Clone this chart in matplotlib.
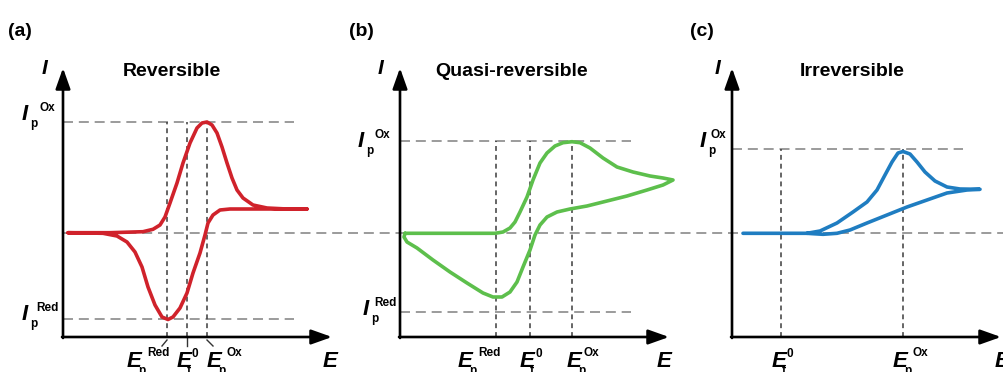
import numpy as np
import matplotlib.pyplot as plt

plt.rcParams['font.family'] = ['Liberation Sans', 'DejaVu Sans']

# curves (E, I in arbitrary units, origin at axis corner)
# (a) reversible
rev_fwd_E = [0.5, 4.7, 8.0, 9.0, 9.7, 10.2, 10.7, 11.4, 12.0, 12.7, 13.4, 13.9, 14.4,
             14.9, 15.4, 15.9, 16.4, 16.9, 17.4, 18.0, 19.0, 20.4, 22.4, 24.4]
rev_fwd_I = [10.43, 10.43, 10.53, 10.77, 11.2, 12.0, 13.4, 15.4, 17.4, 19.4, 20.9, 21.4, 21.5,
             21.2, 20.4, 19.0, 17.4, 15.9, 14.7, 13.9, 13.2, 12.9, 12.8, 12.8]
rev_rev_E = [24.4, 19.7, 16.7, 15.7, 15.0, 14.5, 14.2, 13.7, 13.0, 12.4, 11.7, 11.0, 10.5,
             9.9, 9.2, 8.5, 7.9, 7.2, 6.4, 5.4, 4.0, 0.5]
rev_rev_I = [12.8, 12.8, 12.8, 12.7, 12.2, 11.4, 10.2, 8.4, 6.4, 4.4, 2.9, 2.0, 1.75,
             2.0, 3.2, 5.0, 7.0, 8.5, 9.5, 10.1, 10.37, 10.43]

# (b) quasi-reversible
qr_fwd_E = [0.5, 9.5, 10.3, 11.0, 11.5, 12.0, 12.7, 13.3, 14.0, 14.7, 15.5, 16.3, 17.2,
            18.0, 19.0, 20.3, 21.7, 23.3, 25.0, 26.3, 27.3]
qr_fwd_I = [10.37, 10.37, 10.5, 10.9, 11.5, 12.5, 14.0, 15.7, 17.4, 18.4, 19.1, 19.43, 19.53,
            19.43, 18.9, 17.9, 17.0, 16.5, 16.1, 15.9, 15.7]
qr_rev_E = [27.3, 26.3, 24.7, 22.7, 20.7, 18.7, 17.0, 15.7, 14.7, 14.0, 13.5, 13.0, 12.3,
            11.7, 11.0, 10.2, 9.3, 8.3, 6.7, 5.0, 3.3, 1.7, 0.7, 0.4, 0.5]
qr_rev_I = [15.7, 15.2, 14.7, 14.1, 13.6, 13.1, 12.8, 12.5, 12.0, 11.2, 10.2, 8.7, 7.0,
            5.5, 4.5, 4.0, 4.0, 4.4, 5.4, 6.5, 7.7, 8.9, 9.5, 10.0, 10.37]

# (c) irreversible
irr_fwd_E = [1.1, 7.5, 8.8, 10.5, 12.1, 13.5, 14.5, 15.3, 16.0, 16.6, 17.1, 17.8, 18.5,
             19.3, 20.3, 21.5, 22.8, 24.8]
irr_fwd_I = [10.37, 10.37, 10.6, 11.4, 12.5, 13.5, 14.7, 16.2, 17.5, 18.4, 18.55, 18.3, 17.5,
             16.5, 15.6, 15.0, 14.8, 14.77]
irr_rev_E = [24.8, 23.5, 21.5, 19.5, 17.5, 15.5, 13.5, 11.8, 10.5, 9.1, 8.1, 7.5]
irr_rev_I = [14.77, 14.7, 14.4, 13.7, 13.0, 12.2, 11.4, 10.7, 10.37, 10.27, 10.33, 10.37]

# characteristic values per panel
rev_Ip = [21.5, 1.77]
rev_Ep = [10.4, 12.4, 14.4]     # Ep_red, Ef0, Ep_ox
qr_Ip = [19.55, 2.5]
qr_Ep = [9.55, 12.95, 17.15]
irr_Ip = [18.8]
irr_Ep = [4.9, 17.1]            # Ef0, Ep_ox
I_zero = 10.43

titles = ['Reversible', 'Quasi-reversible', 'Irreversible']
letters = ['(a)', '(b)', '(c)']
colors = ['#d0222b', '#5dbf4c', '#1f7dc1']

W, H = 1004, 372
fig = plt.figure(figsize=(W / 100, H / 100), dpi=100)
XL, YL = (-7, 30), (-5, 30)


def panel(ox, oy):
    # 1 data unit = 10 px
    left = ox + XL[0] * 10
    bottom = (H - oy) + YL[0] * 10
    ax = fig.add_axes([left / W, bottom / H, (XL[1] - XL[0]) * 10 / W, (YL[1] - YL[0]) * 10 / H])
    ax.set_xlim(XL)
    ax.set_ylim(YL)
    ax.axis('off')
    arr = dict(arrowstyle='-|>,head_length=0.9,head_width=0.32', lw=1.9, color='black',
               shrinkA=0, shrinkB=0, mutation_scale=14)
    ax.annotate('', xy=(26.9, 0), xytext=(-0.1, 0), arrowprops=arr, annotation_clip=False)
    ax.annotate('', xy=(0, 26.9), xytext=(0, -0.1), arrowprops=arr, annotation_clip=False)
    return ax


def hdash(ax, y):
    ax.plot([0, 23.1], [y, y], color='#8a8a8a', lw=1.2, dashes=(6, 3.5), zorder=1)


def vdash(ax, x, top):
    ax.plot([x, x], [0, top], color='#3c3c3c', lw=1.1, dashes=(3.2, 2.6), zorder=1)


def lab(ax, x, y, main, sub, sup, sub_dx=8, sup_dx=17, sup_dy=9, size=16):
    ax.text(x, y, main, fontsize=size, fontweight='bold', fontstyle='italic',
            ha='left', va='baseline', clip_on=False)
    ax.annotate(sub, (x, y), xytext=(sub_dx, -7), textcoords='offset pixels', fontsize=8.5,
                fontweight='bold', ha='left', va='baseline', annotation_clip=False)
    ax.annotate(sup, (x, y), xytext=(sup_dx, sup_dy), textcoords='offset pixels', fontsize=8.5,
                fontweight='bold', ha='left', va='baseline', annotation_clip=False)


def axis_names(ax, ex, ix):
    ax.text(ex, -3.0, 'E', fontsize=16, fontweight='bold', fontstyle='italic', ha='left', va='baseline')
    ax.text(ix, 26.3, 'I', fontsize=15, fontweight='bold', fontstyle='italic', ha='left', va='baseline')


def curve(ax, E, I, c):
    ax.plot(E, I, color=c, lw=2.6, solid_joinstyle='round', solid_capstyle='round', zorder=3)


axes = [panel(63, 337), panel(400, 337), panel(732, 337)]
ax_a, ax_b, ax_c = axes

# zero-current reference line running across all panels
ax_a.plot([0, 95], [I_zero, I_zero], color='#8a8a8a', lw=1.2, dashes=(6, 3.5), zorder=1, clip_on=False)

# (a)
hdash(ax_a, rev_Ip[0])
hdash(ax_a, rev_Ip[1])
for e in rev_Ep:
    vdash(ax_a, e, rev_Ip[0])
curve(ax_a, rev_fwd_E + rev_rev_E, rev_fwd_I + rev_rev_I, colors[0])
ax_a.plot([rev_Ep[0], rev_Ep[0] - 0.5], [-0.3, -0.9], color='#333333', lw=1, clip_on=False)
ax_a.plot([rev_Ep[1], rev_Ep[1]], [0, -0.9], color='#333333', lw=1, clip_on=False)
ax_a.plot([rev_Ep[2], rev_Ep[2] + 0.6], [-0.3, -0.9], color='#333333', lw=1, clip_on=False)
lab(ax_a, -4.1, rev_Ip[0] + 0.2, 'I', 'p', 'Ox')
lab(ax_a, -4.1, rev_Ip[1] - 0.1, 'I', 'p', 'Red', sup_dx=14)
lab(ax_a, 6.4, -3.0, 'E', 'p', 'Red', sub_dx=11, sup_dx=20, sup_dy=11)
lab(ax_a, 11.4, -3.0, 'E', 'f', '0', sub_dx=10, sup_dx=14, sup_dy=10)
lab(ax_a, 14.4, -3.0, 'E', 'p', 'Ox', sub_dx=11, sup_dx=20, sup_dy=11)
axis_names(ax_a, 26.0, -2.1)

# (b)
hdash(ax_b, qr_Ip[0])
hdash(ax_b, qr_Ip[1])
for e in qr_Ep:
    vdash(ax_b, e, qr_Ip[0])
curve(ax_b, qr_fwd_E + qr_rev_E, qr_fwd_I + qr_rev_I, colors[1])
lab(ax_b, -4.2, qr_Ip[0] - 0.6, 'I', 'p', 'Ox')
lab(ax_b, -3.7, qr_Ip[1] - 0.3, 'I', 'p', 'Red', sup_dx=11)
lab(ax_b, 5.8, -3.0, 'E', 'p', 'Red', sub_dx=11, sup_dx=20, sup_dy=11)
lab(ax_b, 12.0, -3.0, 'E', 'f', '0', sub_dx=10, sup_dx=16, sup_dy=10)
lab(ax_b, 16.7, -3.0, 'E', 'p', 'Ox', sub_dx=11, sup_dx=17, sup_dy=11)
axis_names(ax_b, 25.7, -2.2)

# (c)
hdash(ax_c, irr_Ip[0])
for e in irr_Ep:
    vdash(ax_c, e, irr_Ip[0])
curve(ax_c, irr_fwd_E + irr_rev_E, irr_fwd_I + irr_rev_I, colors[2])
lab(ax_c, -3.2, irr_Ip[0] + 0.2, 'I', 'p', 'Ox', sup_dx=11)
lab(ax_c, 4.0, -3.0, 'E', 'f', '0', sub_dx=10, sup_dx=15, sup_dy=10)
lab(ax_c, 16.1, -3.0, 'E', 'p', 'Ox', sub_dx=11, sup_dx=20, sup_dy=11)
axis_names(ax_c, 26.3, -1.7)

title_x = [10.9, 11.2, 12.0]
for ax, t, tx in zip(axes, titles, title_x):
    ax.text(tx, 26.5, t, fontsize=14, fontweight='bold', ha='center', va='center')

for x, s in zip([8, 349, 690], letters):
    fig.text(x / W, 1 - 31 / H, s, fontsize=14, fontweight='bold', ha='left', va='center')

fig.savefig('out.png', dpi=100)
